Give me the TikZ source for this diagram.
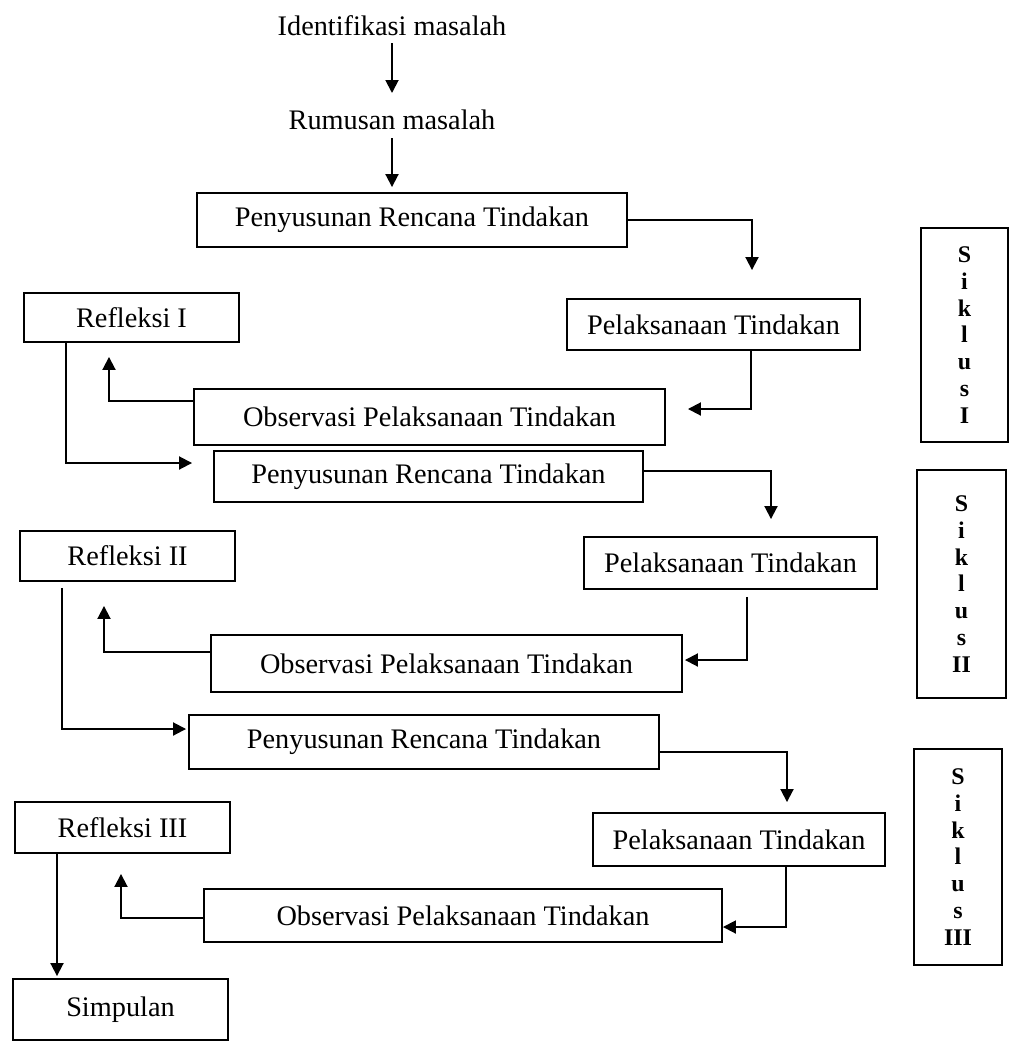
\documentclass[tikz,border=0pt]{standalone}
\usepackage{fontspec}
\setmainfont{Liberation Serif}
\usetikzlibrary{arrows.meta}
\begin{document}
\begin{tikzpicture}[x=1bp,y=-1bp,
  box/.style={draw, line width=1.9bp, inner sep=0pt, align=center,
    font=\fontsize{28.4}{34}\selectfont},
  plain/.style={inner sep=0pt, font=\fontsize{28.4}{34}\selectfont},
  siklusbox/.style={draw, line width=2.1bp, inner sep=0pt, align=center,
    font=\fontsize{24}{27}\selectfont\bfseries},
  arr/.style={-{Triangle[length=13bp,width=13bp]}, line width=1.9bp}]
\useasboundingbox (0,0) rectangle (1010,1042);
% text nodes
\node[plain] (ident) at (392,26) {Identifikasi masalah};
\node[plain] (rum) at (392,120) {Rumusan masalah};
% cycle I
\node[box, minimum width=430bp, minimum height=54bp] (pen1) at (412,220) {Penyusunan Rencana Tindakan};
\node[box, minimum width=293bp, minimum height=51bp] (pel1) at (713.5,324.5) {Pelaksanaan Tindakan};
\node[box, minimum width=471bp, minimum height=56bp] (obs1) at (429.5,417) {Observasi Pelaksanaan Tindakan};
\node[box, minimum width=215bp, minimum height=49bp] (ref1) at (131.5,317.5) {Refleksi I};
% cycle II
\node[box, minimum width=429bp, minimum height=51bp] (pen2) at (428.5,476.5) {Penyusunan Rencana Tindakan};
\node[box, minimum width=293bp, minimum height=52bp] (pel2) at (730.5,563) {Pelaksanaan Tindakan};
\node[box, minimum width=471bp, minimum height=57bp] (obs2) at (446.5,663.5) {Observasi Pelaksanaan Tindakan};
\node[box, minimum width=215bp, minimum height=50bp] (ref2) at (127.5,556) {Refleksi II};
% cycle III
\node[box, minimum width=470bp, minimum height=54bp] (pen3) at (424,742) {Penyusunan Rencana Tindakan};
\node[box, minimum width=292bp, minimum height=53bp] (pel3) at (739,839.5) {Pelaksanaan Tindakan};
\node[box, minimum width=518bp, minimum height=53bp] (obs3) at (463,915.5) {Observasi Pelaksanaan Tindakan};
\node[box, minimum width=215bp, minimum height=51bp] (ref3) at (122.5,827.5) {Refleksi III};
\node[box, minimum width=215bp, minimum height=61bp] (simp) at (120.5,1009.5) {Simpulan};
% siklus labels
\node[siklusbox, minimum width=87bp, minimum height=214bp] (sik1) at (964.5,335) {S\\i\\k\\l\\u\\s\\I};
\node[siklusbox, minimum width=89bp, minimum height=228bp] (sik2) at (961.5,584) {S\\i\\k\\l\\u\\s\\II};
\node[siklusbox, minimum width=88bp, minimum height=216bp] (sik3) at (958,857) {S\\i\\k\\l\\u\\s\\III};
% connectors
\draw[arr] ([yshift=-17bp]ident.center) -- ([yshift=27bp]rum.center);
\draw[arr, shorten <=18bp, shorten >=5bp] (rum.center) -- (pen1.north -| rum.center);
\draw[arr, shorten >=28bp] (pen1.east) -| ([xshift=38.5bp]pel1.north);
\draw[arr, shorten >=22bp] ([xshift=37.5bp]pel1.south) |- ([yshift=8bp]obs1.east);
\draw[arr, shorten >=14bp] ([yshift=16bp]obs1.west) -| ([xshift=-22.5bp]ref1.south);
\draw[arr, shorten >=21bp] ([xshift=-65.5bp]ref1.south) |- ([yshift=13.5bp]pen2.west);
% cycle II connectors
\draw[arr, shorten >=17bp] ([yshift=5.5bp]pen2.east) -| ([xshift=40.5bp]pel2.north);
\draw[arr, shorten <=7bp, shorten >=2bp] ([xshift=16.5bp]pel2.south) |- ([yshift=3.5bp]obs2.east);
\draw[arr, shorten >=24bp] ([yshift=11.5bp]obs2.west) -| ([xshift=-23.5bp]ref2.south);
\draw[arr, shorten <=6bp, shorten >=2bp] ([xshift=-65.5bp]ref2.south) |- ([yshift=13bp]pen3.west);
% cycle III connectors
\draw[arr, shorten >=10bp] ([yshift=-10bp]pen3.east) -| ([xshift=48bp]pel3.north);
\draw[arr] ([xshift=47bp]pel3.south) |- ([yshift=-11.5bp]obs3.east);
\draw[arr, shorten >=20bp] ([yshift=-2.5bp]obs3.west) -| ([xshift=-1.5bp]ref3.south);
\draw[arr, shorten >=2bp] ([xshift=-65.5bp]ref3.south) -- ([xshift=-65.5bp]ref3.south |- simp.north);
\end{tikzpicture}
\end{document}
